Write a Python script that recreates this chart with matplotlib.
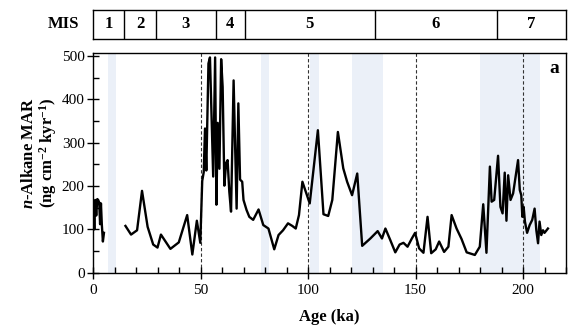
import numpy as np
import matplotlib
matplotlib.use('Agg')
import matplotlib.pyplot as plt
from matplotlib.ticker import MultipleLocator

plt.rcParams['font.family'] = ['Liberation Serif', 'DejaVu Serif']
plt.rcParams['mathtext.fontset'] = 'custom'
plt.rcParams['mathtext.rm'] = 'Liberation Serif:bold'
plt.rcParams['mathtext.it'] = 'Liberation Serif:bold:italic'
plt.rcParams['mathtext.bf'] = 'Liberation Serif:bold'

# Holocene part of the record (ka, ng cm-2 kyr-1)
age_top = [0.2, 0.6, 1.0, 1.5, 2.0, 2.4, 2.9, 3.3, 3.7, 4.1, 4.6, 5.1]
mar_top = [160, 100, 168, 132, 170, 168, 162, 112, 160, 112, 72, 92]

# rest of the record
age_main = [15.1, 17.7, 20.5, 22.8, 25.4, 28.0, 30.0, 31.6, 36.0, 39.9,
            43.8, 46.2, 48.3, 49.9, 50.8, 51.5, 52.1, 52.7, 53.7, 54.4,
            55.9, 56.8, 57.4, 58.0, 58.8, 59.6, 60.3, 61.1, 61.9, 62.6,
            63.4, 64.2, 65.4, 66.1, 66.8, 67.6, 68.4, 69.4, 70.0, 71.4,
            72.7, 74.5, 77.0, 79.2, 81.6, 84.3, 86.3, 88.4, 90.7, 92.7,
            94.3, 95.8, 97.4, 100.8, 104.6, 107.2, 109.4, 111.3, 113.9, 116.4,
            118.2, 120.5, 122.9, 125.2, 129.0, 132.4, 134.4, 136.0, 138.3, 140.6,
            142.6, 144.4, 146.3, 148.3, 149.8, 151.7, 153.7, 155.6, 157.3, 159.4,
            161.0, 163.3, 165.3, 166.8, 169.1, 171.4, 173.8, 177.6, 179.9, 181.5,
            183.0, 184.6, 185.4, 186.6, 188.4, 189.5, 190.5, 191.5, 192.3, 193.1,
            194.2, 195.4, 197.7, 198.5, 199.2, 199.7, 200.3, 200.9, 201.9, 203.1,
            204.3, 205.4, 206.2, 207.0, 207.7, 208.5, 209.3, 210.0, 211.6]
mar_main = [108, 88, 98, 189, 106, 65, 58, 88, 55, 70,
            133, 42, 120, 69, 212, 232, 333, 236, 483, 497,
            222, 497, 157, 346, 240, 493, 429, 201, 253, 260,
            187, 141, 444, 293, 148, 391, 215, 210, 168, 145,
            129, 122, 146, 110, 102, 54, 87, 98, 114, 108,
            102, 133, 210, 160, 329, 135, 131, 168, 325, 241,
            210, 179, 229, 62, 79, 96, 79, 102, 75, 47,
            65, 69, 60, 79, 92, 56, 46, 129, 45, 54,
            72, 48, 60, 133, 102, 78, 47, 41, 60, 158,
            46, 245, 164, 168, 270, 152, 137, 231, 120, 225,
            168, 183, 260, 191, 179, 129, 152, 118, 92, 110,
            122, 148, 98, 68, 118, 87, 98, 92, 102]

# shaded intervals and MIS boundaries (ka)
bands = [(7.2, 10.8), (78.3, 81.9), (100.9, 105.2), (120.3, 134.7), (180.2, 208.1)]
dashed = [50, 100, 150, 200]
mis_bounds = [0, 14.5, 29.5, 57, 70.7, 131, 187.7, 220]
mis_names = ['1', '2', '3', '4', '5', '6', '7']

fig = plt.figure(figsize=(5.87, 3.27), dpi=100)
ax = fig.add_axes([93/587, 54.3/327, 473/587, 220/327])

for b0, b1 in bands:
    ax.axvspan(b0, b1, color='#ebf0f8', lw=0, zorder=0)
for d in dashed:
    ax.axvline(d, color='#333333', lw=0.8, ls=(0, (3, 2)), zorder=1)

ax.plot(age_top, mar_top, color='black', lw=1.7, zorder=3)
ax.plot(age_main, mar_main, color='black', lw=1.7, zorder=3)

ax.set_xlim(0, 220)
ax.set_ylim(0, 508)
ax.xaxis.set_major_locator(MultipleLocator(50))
ax.xaxis.set_minor_locator(MultipleLocator(10))
ax.yaxis.set_major_locator(MultipleLocator(100))
ax.yaxis.set_minor_locator(MultipleLocator(50))
ax.tick_params(which='major', direction='inout', length=8, width=1, labelsize=11)
ax.tick_params(which='minor', direction='in', length=4, width=1)
ax.tick_params(axis='x', pad=4)
ax.tick_params(axis='y', pad=2)
for s in ax.spines.values():
    s.set_linewidth(1.0)

ax.set_xlabel('Age (ka)', fontsize=12, fontweight='bold', labelpad=9)
fig.text(40/587, 1 - 153/327, '$\\mathit{n}$-Alkane MAR\n(ng cm$^{-2}$ kyr$^{-1}$)',
         rotation=90, ha='center', va='center', fontsize=12, fontweight='bold',
         linespacing=0.95)
ax.text(0.985, 0.93, 'a', transform=ax.transAxes, ha='right', va='center',
        fontsize=14, fontweight='bold')

# MIS stage bar
mis = fig.add_axes([93/587, 1 - 38.6/327, 473/587, 28.6/327])
mis.set_xlim(0, 220)
mis.set_ylim(0, 1)
mis.set_xticks([])
mis.set_yticks([])
for s in mis.spines.values():
    s.set_linewidth(1.0)
for i, name in enumerate(mis_names):
    if i > 0:
        mis.axvline(mis_bounds[i], color='black', lw=1.0)
    mid = (mis_bounds[i] + mis_bounds[i + 1]) / 2
    mis.text(mid, 0.5, name, ha='center', va='center', fontsize=12, fontweight='bold')
fig.text(64/587, 1 - 24/327, 'MIS', ha='center', va='center', fontsize=12, fontweight='bold')

fig.savefig('out.png', dpi=100)
